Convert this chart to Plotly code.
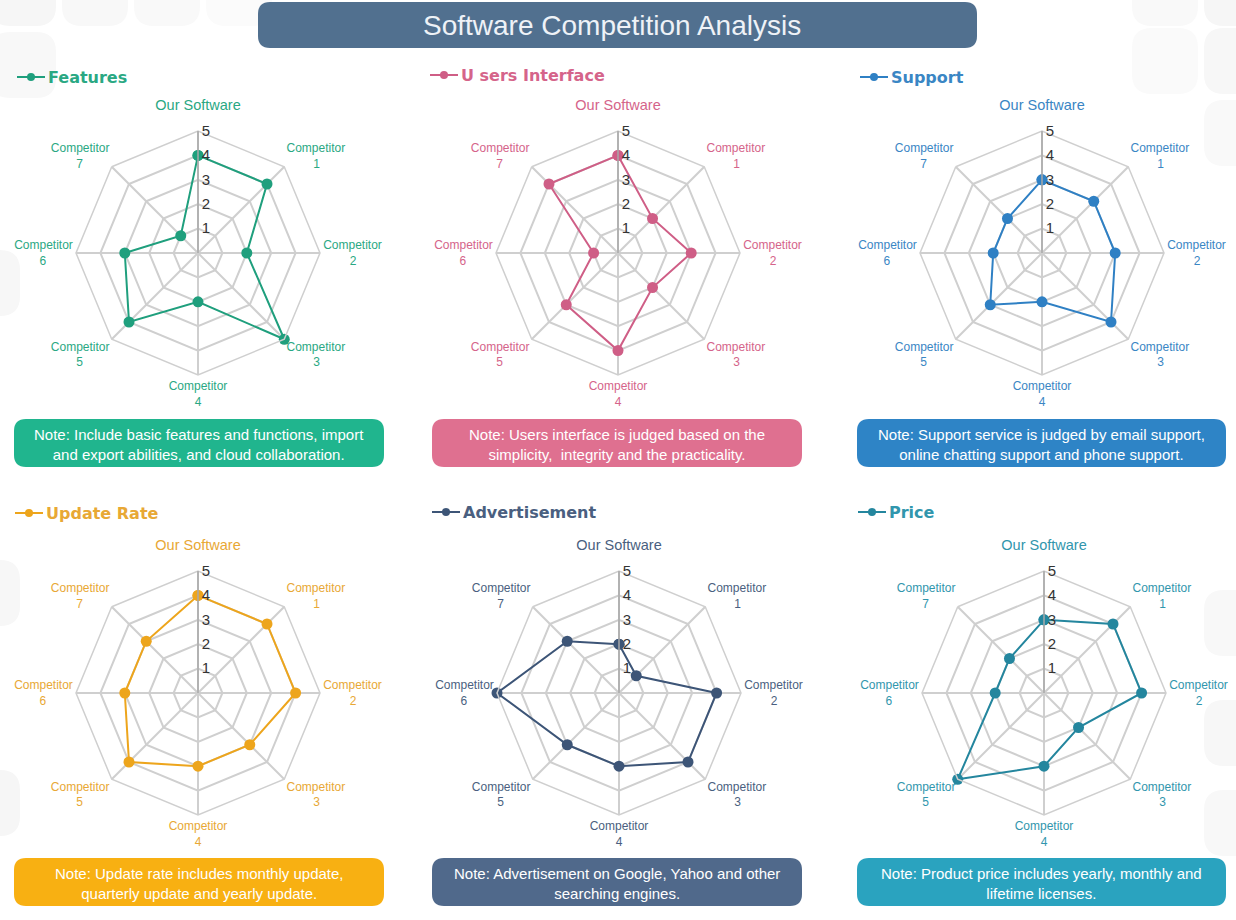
import plotly.graph_objects as go

W, H = 1236, 920

categories = ["Our Software", "Competitor 1", "Competitor 2", "Competitor 3",
              "Competitor 4", "Competitor 5", "Competitor 6", "Competitor 7"]

features = [4, 4, 2, 5, 2, 4, 3, 1]
users_interface = [4, 2, 3, 2, 4, 3, 1, 4]
support = [3, 3, 3, 4, 2, 3, 2, 2]
update_rate = [4, 4, 4, 3, 3, 4, 3, 3]
advertisement = [2, 1, 4, 4, 3, 3, 5, 3]
price = [3, 4, 4, 2, 3, 5, 2, 2]

panel_titles = ["Features", "U sers Interface", "Support", "Update Rate", "Advertisement", "Price"]
panel_values = [features, users_interface, support, update_rate, advertisement, price]
notes = [
    "Note: Include basic features and functions, import<br>and export abilities, and cloud collaboration.",
    "Note: Users interface is judged based on the<br>simplicity,  integrity and the practicality.",
    "Note: Support service is judged by email support,<br>online chatting support and phone support.",
    "Note: Update rate includes monthly update,<br>quarterly update and yearly update.",
    "Note: Advertisement on Google, Yahoo and other<br>searching engines.",
    "Note: Product price includes yearly, monthly and<br>lifetime licenses.",
]
radial_ticks = [1, 2, 3, 4, 5]

line_colors = ["#1f9f7d", "#cf5e86", "#2f80c4", "#eda51c", "#3d5577", "#24869e"]
label_colors = ["#2aa883", "#d5648a", "#3a86c4", "#e8a835", "#4a5f80", "#3196ad"]
note_colors = ["#20b58e", "#df7090", "#2e84c6", "#f8b012", "#50698b", "#2aa3bf"]

centers = [(198, 253), (618, 253), (1042, 253), (198, 693), (619, 693), (1044, 693)]
R = 122
title_pos = [(17, 77), (430, 75), (860, 77), (15, 513), (432, 512), (858, 512)]
note_boxes = [(14, 419, 384, 467), (432, 419, 802, 467), (857, 419, 1226, 467),
              (14, 858, 384, 906), (432, 858, 802, 906), (857, 858, 1226, 906)]


def fx(x):
    return x / W


def fy(y):
    return 1 - y / H


def rrect_path(x0, y0, x1, y1, r):
    X0, X1 = fx(x0), fx(x1)
    Y0, Y1 = fy(y0), fy(y1)
    rx, ry = r / W, r / H
    return (f"M {X0+rx},{Y0} L {X1-rx},{Y0} Q {X1},{Y0} {X1},{Y0-ry} "
            f"L {X1},{Y1+ry} Q {X1},{Y1} {X1-rx},{Y1} L {X0+rx},{Y1} "
            f"Q {X0},{Y1} {X0},{Y1+ry} L {X0},{Y0-ry} Q {X0},{Y0} {X0+rx},{Y0} Z")


def tick_label(name, idx):
    """Two-line angular tick label, with the number padded so it sits centred."""
    if idx == 0:
        return "<span style='font-size:14.5px'>" + name + "</span><br><span style='font-size:8px'> </span>"
    word, num = name.split(" ")
    pad = "\u00a0" * 8
    if idx in (1, 2, 3):      # right-hand side labels: text anchored at start
        return word + "<br>" + pad + num
    if idx in (5, 6, 7):      # left-hand side labels: text anchored at end
        return word + "<br>" + num + pad
    return word + "<br>" + num


theta_labels = [tick_label(c, k) for k, c in enumerate(categories)]

fig = go.Figure()
shapes = []
annotations = []

# faint background pattern of rounded tiles near edges
tiles = [(-10, -40, "#f6f6f6"), (62, -40, "#f8f8f8"), (134, -40, "#f9f9f9"), (206, -40, "#fbfbfb"),
         (-10, 32, "#f8f8f8"), (1132, -40, "#f9f9f9"), (1204, -40, "#f6f6f6"),
         (1132, 28, "#fafafa"), (1204, 28, "#f7f7f7"), (1204, 100, "#f9f9f9"),
         (-46, 250, "#f7f7f7"), (-46, 560, "#f7f7f7"), (-46, 770, "#f6f6f6"),
         (1204, 590, "#f8f8f8"), (1204, 700, "#f7f7f7"), (1204, 790, "#f8f8f8")]
for tx, ty, tc in tiles:
    shapes.append(dict(type="path", xref="paper", yref="paper",
                       path=rrect_path(tx, ty, tx + 66, ty + 66, 20),
                       fillcolor=tc, line=dict(width=0), layer="below"))

# title bar
shapes.append(dict(type="path", xref="paper", yref="paper",
                   path=rrect_path(258, 2, 977, 48, 12),
                   fillcolor="#51708f", line=dict(width=0)))
annotations.append(dict(x=fx(612), y=fy(25), xref="paper", yref="paper",
                        text="Software Competition Analysis", showarrow=False,
                        font=dict(size=28, color="#eef2f7", family="Arial"),
                        xanchor="center", yanchor="middle"))

for i in range(6):
    cx, cy = centers[i]
    key = "polar" if i == 0 else f"polar{i+1}"
    vals = panel_values[i]
    fig.add_trace(go.Scatterpolar(
        r=vals + [vals[0]], theta=theta_labels + [theta_labels[0]],
        mode="lines+markers", subplot=key,
        line=dict(color=line_colors[i], width=2),
        marker=dict(size=11, color=line_colors[i]),
        showlegend=False, hoverinfo="skip"))
    fig.update_layout(**{key: dict(
        domain=dict(x=[fx(cx - R), fx(cx + R)], y=[fy(cy + R), fy(cy - R)]),
        bgcolor="rgba(0,0,0,0)",
        gridshape="linear",
        radialaxis=dict(range=[0, 5], tickvals=radial_ticks, angle=90, tickangle=90,
                        showline=True, linecolor="#a8a8a8", linewidth=1.5,
                        gridcolor="#cfcfcf", gridwidth=1.5, ticks="",
                        tickfont=dict(size=15, color="#333333", family="Arial")),
        angularaxis=dict(type="category", categoryarray=theta_labels,
                         rotation=90, direction="clockwise",
                         showline=True, linecolor="#cfcfcf", linewidth=1.5,
                         gridcolor="#cfcfcf", gridwidth=1.5, ticks="",
                         tickfont=dict(size=12, color=label_colors[i], family="Arial")),
    )})

    # panel header icon + title
    hx, hy = title_pos[i]
    shapes.append(dict(type="line", xref="paper", yref="paper",
                       x0=fx(hx), x1=fx(hx + 28), y0=fy(hy), y1=fy(hy),
                       line=dict(color=line_colors[i], width=2)))
    shapes.append(dict(type="circle", xref="paper", yref="paper",
                       x0=fx(hx + 10), x1=fx(hx + 18), y0=fy(hy + 4), y1=fy(hy - 4),
                       fillcolor=line_colors[i], line=dict(width=0)))
    annotations.append(dict(x=fx(hx + 29), y=fy(hy), xref="paper", yref="paper",
                            text=f"<b>{panel_titles[i]}</b>", showarrow=False,
                            font=dict(size=16, color=label_colors[i], family="DejaVu Sans"),
                            xanchor="left", yanchor="middle"))

    # note box
    x0, y0, x1, y1 = note_boxes[i]
    shapes.append(dict(type="path", xref="paper", yref="paper",
                       path=rrect_path(x0, y0, x1, y1, 12),
                       fillcolor=note_colors[i], line=dict(width=0)))
    annotations.append(dict(x=fx((x0 + x1) / 2), y=fy((y0 + y1) / 2 + 1), xref="paper", yref="paper",
                            text=notes[i], showarrow=False, align="center",
                            font=dict(size=15, color="#ffffff", family="Arial"),
                            xanchor="center", yanchor="middle"))

fig.update_layout(width=W, height=H, margin=dict(l=0, r=0, t=0, b=0),
                  paper_bgcolor="#ffffff", plot_bgcolor="#ffffff",
                  shapes=shapes, annotations=annotations,
                  font=dict(family="Arial"))

fig.write_html("out.html", config={"displayModeBar": False},
               post_script="document.body.style.margin='0';document.body.style.overflow='hidden';")
